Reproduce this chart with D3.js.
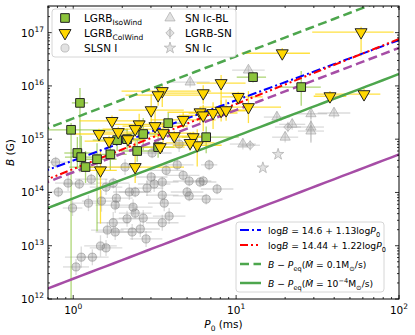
<!DOCTYPE html>
<html lang="en">
<head>
<meta charset="utf-8">
<title>B - P0</title>
<style>
  body { margin: 0; background: #fff; }
  svg { font-family: "DejaVu Sans", sans-serif; }
</style>
</head>
<body>
<div id="chart"></div>
<script src="https://cdn.jsdelivr.net/npm/d3@7"></script>
<script>
// rows: [P0 (ms), B (G), errP lo, errP hi, errB lo, errB hi]  errors in dex
var isoWind = [
  [0.97, 1.5e15, 0.14, 0.35, 3.2, 0.13],
  [1.10, 4.8e15, 0.05, 0.05, 1.3, 0.28],
  [1.06, 5.5e14, 0.08, 0.10, 0.3, 0.3],
  [1.12, 4.6e14, 0.10, 0.15, 0.2, 0.4],
  [1.19, 3.0e14, 0.10, 0.10, 0.3, 0.3],
  [1.40, 4.2e14, 0.12, 0.12, 1.35, 0.3],
  [1.69, 5.2e14, 0.10, 0.10, 0.3, 0.3],
  [1.86, 9.6e14, 0.15, 0.15, 0.2, 0.2],
  [2.14, 1.0e15, 0.10, 0.10, 0.2, 0.2],
  [2.47, 6.0e14, 0.10, 0.10, 0.2, 0.2],
  [2.69, 1.25e15, 0.10, 0.10, 0.3, 0.3],
  [3.32, 7.1e14, 0.10, 0.10, 0.2, 0.2],
  [3.83, 2.0e15, 0.12, 0.12, 0.2, 0.2],
  [6.55, 1.09e15, 0.15, 0.20, 0.3, 0.2],
  [12.7, 1.46e16, 0.10, 0.08, 0.1, 0.1],
  [25.1, 9.5e15, 0.13, 0.12, 0.35, 0.3]
];

var colWind = [
  [58.5, 1.02e17, 0.30, 0.20, 0.45, 0.10],
  [19.2, 4.1e16, 0.25, 0.17, 0.10, 0.10],
  [3.52, 8.0e15, 0.25, 0.30, 0.30, 0.10],
  [3.32, 6.7e15, 0.20, 0.30, 0.20, 0.10],
  [6.28, 7.3e15, 0.30, 0.25, 0.20, 0.15],
  [8.09, 1.13e16, 0.15, 0.15, 0.60, 0.15],
  [10.3, 6.2e15, 0.10, 0.15, 0.10, 0.10],
  [37.7, 6.4e15, 0.10, 0.10, 0.10, 0.10],
  [61.0, 7.0e15, 0.30, 0.10, 0.10, 0.10],
  [3.01, 3.5e15, 0.20, 0.20, 0.30, 0.30],
  [11.9, 4.0e15, 0.30, 0.20, 0.30, 0.30],
  [1.73, 2.2e15, 0.20, 0.20, 0.10, 0.10],
  [1.44, 1.25e15, 0.15, 0.20, 0.10, 0.10],
  [1.89, 1.36e15, 0.10, 0.10, 0.10, 0.10],
  [1.66, 9.2e14, 0.15, 0.15, 0.10, 0.10],
  [2.17, 1.0e15, 0.10, 0.10, 0.10, 0.10],
  [2.54, 1.9e15, 0.15, 0.15, 0.20, 0.20],
  [3.18, 1.76e15, 0.20, 0.20, 0.20, 0.30],
  [3.56, 1.3e15, 0.20, 0.20, 0.20, 0.20],
  [4.17, 1.14e15, 0.15, 0.20, 0.10, 0.10],
  [4.73, 2.3e15, 0.20, 0.20, 0.15, 0.15],
  [5.45, 1.09e15, 0.15, 0.10, 0.10, 0.10],
  [5.77, 7.7e14, 0.15, 0.15, 0.40, 0.30],
  [5.22, 8.5e14, 0.15, 0.15, 0.15, 0.20],
  [3.42, 7.1e14, 0.20, 0.15, 0.10, 0.10],
  [2.40, 3.0e14, 0.30, 0.30, 0.30, 0.50],
  [1.47, 2.6e14, 0.10, 0.10, 1.00, 0.40],
  [6.01, 3.2e15, 0.20, 0.15, 0.20, 0.10],
  [6.28, 2.8e15, 0.15, 0.15, 0.30, 0.20],
  [7.22, 3.1e15, 0.15, 0.15, 0.30, 0.20],
  [8.09, 3.4e15, 0.15, 0.15, 0.20, 0.20],
  [8.68, 3.5e15, 0.20, 0.15, 0.20, 0.20],
  [2.40, 1.55e15, 0.20, 0.20, 0.15, 0.15]
];

// rows: [P0 (ms), B (G), errP, errB]  symmetric, dex
var slsn = [
  [0.78, 3.7e14, 0.10, 0.10], [0.81, 1.02e14, 0.08, 0.10], [0.93, 1.5e14, 0.08, 0.15],
  [1.09, 1.44e14, 0.10, 0.10], [0.99, 5.1e13, 0.06, 0.15], [1.24, 6.3e13, 0.10, 0.15],
  [1.29, 1.78e14, 0.10, 0.10], [1.49, 6.9e13, 0.12, 0.20], [1.59, 1.26e14, 0.10, 0.15],
  [1.76, 1.5e14, 0.10, 0.10], [1.84, 7.8e13, 0.10, 0.20], [1.81, 5.8e13, 0.12, 0.15],
  [1.76, 2.7e13, 0.10, 0.20], [1.62, 1.97e13, 0.10, 0.15], [1.81, 1.81e13, 0.12, 0.15],
  [1.47, 9.9e12, 0.10, 0.20], [1.59, 9.1e12, 0.10, 0.15], [1.12, 6.1e12, 0.10, 0.20],
  [1.31, 6.1e12, 0.10, 0.15], [1.04, 4.0e12, 0.08, 0.15], [2.08, 3.0e14, 0.10, 0.15],
  [2.21, 1.02e14, 0.10, 0.15], [2.40, 1.02e14, 0.10, 0.10], [2.33, 5.3e13, 0.12, 0.15],
  [2.14, 3.2e13, 0.10, 0.15], [2.40, 4.1e13, 0.10, 0.10], [2.69, 3.3e13, 0.15, 0.15],
  [2.30, 1.81e13, 0.12, 0.15], [2.58, 2.06e13, 0.12, 0.15], [2.80, 1.34e13, 0.10, 0.15],
  [2.84, 1.21e14, 0.10, 0.15], [3.01, 1.95e14, 0.10, 0.10], [3.14, 1.44e14, 0.10, 0.15],
  [3.52, 1.57e14, 0.10, 0.10], [3.52, 8.9e13, 0.10, 0.15], [3.62, 6.3e13, 0.10, 0.15],
  [3.52, 2.7e13, 0.10, 0.15], [3.88, 3.6e13, 0.10, 0.15], [3.72, 2.6e14, 0.10, 0.10],
  [4.35, 3.3e14, 0.10, 0.10], [4.73, 2.1e14, 0.10, 0.10], [5.15, 1.64e14, 0.10, 0.10],
  [5.00, 1.02e14, 0.10, 0.10], [5.15, 8.6e13, 0.10, 0.10], [6.01, 1.57e14, 0.10, 0.10],
  [6.55, 7.5e13, 0.10, 0.10], [6.83, 3.3e14, 0.05, 0.10], [4.47, 8.1e14, 0.10, 0.15],
  [3.05, 5.5e14, 0.12, 0.10], [7.64, 1.16e14, 0.10, 0.10], [6.28, 1.64e14, 0.05, 0.10]
];

var snIcBL = [
  [5.22, 1.18e16, 0.12, 0.10], [11.9, 1.98e16, 0.10, 0.08], [17.8, 2.6e15, 0.08, 0.10],
  [22.1, 1.9e15, 0.08, 0.10], [28.8, 3.0e15, 0.10, 0.10], [39.9, 3.1e15, 0.10, 0.10],
  [20.0, 1.09e15, 0.08, 0.10], [28.8, 1.69e15, 0.08, 0.30], [28.8, 1.42e15, 0.08, 0.20],
  [11.0, 8.1e14, 0.08, 0.10]
];
var lgrbSN = [[20.8, 1.69e15, 0.08, 0.10], [12.2, 7.7e14, 0.06, 0.10]];
var snIc = [[18.1, 5.2e14, 0, 0], [14.6, 2.9e14, 0, 0]];

// fits: logB = a + b logP0
var fitBlue = [14.6, 1.13];
var fitRed = [14.44, 1.22];
// spin equilibrium lines, slope 7/6
var eqGreenDash = [15.39, 7 / 6];
var eqGreenSolid = [13.89, 7 / 6];
var eqPurpleDash = [14.38, 7 / 6];
var eqPurpleSolid = [12.38, 7 / 6];

var width = 415, height = 335;
var margin = {top: 6, right: 16, bottom: 36, left: 48};

var svg = d3.select("#chart").append("svg")
    .attr("width", width)
    .attr("height", height);

var x = d3.scaleLog().domain([0.7, 100]).range([margin.left, width - margin.right]);
var y = d3.scaleLog().domain([1e12, Math.pow(10, 17.5)]).range([height - margin.bottom, margin.top]);

svg.append("clipPath").attr("id", "clip")
  .append("rect")
    .attr("x", margin.left).attr("y", margin.top)
    .attr("width", x.range()[1] - margin.left)
    .attr("height", y.range()[0] - margin.top);

var plot = svg.append("g").attr("clip-path", "url(#clip)");

function errbars(g, data, color, op, asym) {
  data.forEach(function(d) {
    var lp = Math.log10(d[0]), lb = Math.log10(d[1]);
    var pl = d[2], ph = asym ? d[3] : d[2];
    var bl = asym ? d[4] : d[3], bh = asym ? d[5] : d[3];
    if (pl + ph > 0) {
      g.append("line")
        .attr("x1", x(Math.pow(10, lp - pl))).attr("x2", x(Math.pow(10, lp + ph)))
        .attr("y1", y(d[1])).attr("y2", y(d[1]))
        .attr("stroke", color).attr("stroke-opacity", op).attr("stroke-width", 1.3);
    }
    if (bl + bh > 0) {
      g.append("line")
        .attr("x1", x(d[0])).attr("x2", x(d[0]))
        .attr("y1", y(Math.pow(10, lb - bl))).attr("y2", y(Math.pow(10, lb + bh)))
        .attr("stroke", color).attr("stroke-opacity", op).attr("stroke-width", 1.3);
    }
  });
}

var gErr = plot.append("g");
errbars(gErr, slsn, "#999", 0.35, false);
errbars(gErr, snIcBL, "#999", 0.35, false);
errbars(gErr, lgrbSN, "#999", 0.35, false);
errbars(gErr, isoWind, "#8cc43c", 0.7, true);
errbars(gErr, colWind, "#ffd700", 0.75, true);

var sym = {
  circle: d3.symbol().type(d3.symbolCircle).size(52),
  triUp: d3.symbol().type(d3.symbolTriangle).size(45),
  diamond: d3.symbol().type(d3.symbolDiamond2).size(45),
  star: d3.symbol().type(d3.symbolStar).size(40),
  square: d3.symbol().type(d3.symbolSquare).size(75),
  triDown: d3.symbol().type(d3.symbolTriangle).size(62)
};

function pts(data, path, fill, stroke, fop, sop, rot, sw) {
  plot.append("g").selectAll("path")
    .data(data)
    .enter().append("path")
      .attr("d", path)
      .attr("transform", function(d) {
        return "translate(" + x(d[0]) + "," + y(d[1]) + ")" + (rot ? " rotate(180)" : "");
      })
      .attr("fill", fill).attr("fill-opacity", fop)
      .attr("stroke", stroke).attr("stroke-opacity", sop)
      .attr("stroke-width", sw || 1);
}

pts(slsn, sym.circle, "#808080", "#808080", 0.3, 0.5);
pts(snIcBL, sym.triUp, "#a0a0a0", "#a0a0a0", 0.3, 0.6);
pts(lgrbSN, sym.diamond, "#a0a0a0", "#a0a0a0", 0.3, 0.6);
pts(snIc, sym.star, "#a0a0a0", "#a0a0a0", 0.3, 0.6);

// lines
var logP = d3.range(-0.2, 2.05, 0.05);
function drawLine(par, color, dash, lw) {
  plot.append("path")
    .datum(logP)
    .attr("fill", "none")
    .attr("stroke", color)
    .attr("stroke-width", lw)
    .attr("stroke-dasharray", dash)
    .attr("d", d3.line()
      .x(function(l) { return x(Math.pow(10, l)); })
      .y(function(l) { return y(Math.pow(10, par[0] + par[1] * l)); }));
}
drawLine(eqGreenDash, "#4da64d", "9,4.5", 2.5);
drawLine(eqGreenSolid, "#4da64d", null, 2.5);
drawLine(eqPurpleDash, "#a64da6", "9,4.5", 2.5);
drawLine(eqPurpleSolid, "#a64da6", null, 2.5);
drawLine(fitBlue, "#0000ff", "9,3,2,3", 2);
drawLine(fitRed, "#ff0000", "8,3,2,3,2,3", 2);

pts(isoWind, sym.square, "#8cc43c", "#222", 1, 1, false, 1);
pts(colWind, sym.triDown, "#ffd700", "#222", 1, 1, true, 1);

// axes frame & ticks (inward, all sides)
var x0 = margin.left, x1 = width - margin.right, y0 = y.range()[0], y1 = margin.top;
var ax = svg.append("g").attr("stroke", "#000");
var xTicks = [], yTicks = [];
[0.1, 1, 10].forEach(function(dec) {
  for (var k = 1; k < 10; k++) {
    var v = dec * k;
    if (v >= 0.7 && v <= 100) xTicks.push([v, k === 1]);
  }
});
xTicks.push([100, true]);
for (var e = 12; e <= 17; e++) {
  for (var k = 1; k < 10; k++) {
    var v = k * Math.pow(10, e);
    if (v <= Math.pow(10, 17.5)) yTicks.push([v, k === 1]);
  }
}
xTicks.forEach(function(t) {
  var len = t[1] ? 4 : 2, px = x(t[0]);
  ax.append("line").attr("x1", px).attr("x2", px).attr("y1", y0).attr("y2", y0 - len).attr("stroke-width", 0.8);
  ax.append("line").attr("x1", px).attr("x2", px).attr("y1", y1).attr("y2", y1 + len).attr("stroke-width", 0.8);
});
yTicks.forEach(function(t) {
  var len = t[1] ? 4 : 2, py = y(t[0]);
  ax.append("line").attr("x1", x0).attr("x2", x0 + len).attr("y1", py).attr("y2", py).attr("stroke-width", 0.8);
  ax.append("line").attr("x1", x1).attr("x2", x1 - len).attr("y1", py).attr("y2", py).attr("stroke-width", 0.8);
});
svg.append("rect")
  .attr("x", x0).attr("y", y1).attr("width", x1 - x0).attr("height", y0 - y1)
  .attr("fill", "none").attr("stroke", "#000").attr("stroke-width", 1);

// tick labels
var xLabels = [[1, "0"], [10, "1"], [100, "2"]];
xLabels.forEach(function(t) {
  var tx = svg.append("text")
    .attr("x", x(t[0])).attr("y", y0 + 15)
    .attr("text-anchor", "middle").attr("font-size", 10.5);
  tx.append("tspan").text("10");
  tx.append("tspan").attr("dy", -5).attr("font-size", 7.5).text(t[1]);
});
var yLabels = [[1e12, "12"], [1e13, "13"], [1e14, "14"], [1e15, "15"], [1e16, "16"], [1e17, "17"]];
yLabels.forEach(function(t) {
  var ty = svg.append("text")
    .attr("x", x0 - 4).attr("y", y(t[0]) + 4)
    .attr("text-anchor", "end").attr("font-size", 10.5);
  ty.append("tspan").text("10");
  ty.append("tspan").attr("dy", -5).attr("font-size", 7.5).text(t[1]);
});

// axis labels
var xl = svg.append("text")
  .attr("x", (x0 + x1) / 2).attr("y", 328)
  .attr("text-anchor", "middle").attr("font-size", 10.5);
xl.append("tspan").attr("font-style", "italic").text("P");
xl.append("tspan").attr("dy", 2.5).attr("font-size", 7.5).text("0");
xl.append("tspan").attr("dy", -2.5).text(" (ms)");

var yl = svg.append("text")
  .attr("transform", "translate(14," + (y0 + y1) / 2 + ") rotate(-90)")
  .attr("text-anchor", "middle").attr("font-size", 10.5);
yl.append("tspan").attr("font-style", "italic").text("B");
yl.append("tspan").text(" (G)");

// legend 1 (markers)
var leg1 = svg.append("g");
leg1.append("rect")
  .attr("x", 52).attr("y", 9).attr("width", 184).attr("height", 48).attr("rx", 3)
  .attr("fill", "#fff").attr("fill-opacity", 0.85)
  .attr("stroke", "#ccc").attr("stroke-width", 0.8);

var leg1Items = [
  {col: 0, row: 0, name: "LGRB", sub: "IsoWind", kind: "square"},
  {col: 0, row: 1, name: "LGRB", sub: "ColWind", kind: "triDown"},
  {col: 0, row: 2, name: "SLSN I", sub: null, kind: "circle"},
  {col: 1, row: 0, name: "SN Ic-BL", sub: null, kind: "triUp"},
  {col: 1, row: 1, name: "LGRB-SN", sub: null, kind: "diamond"},
  {col: 1, row: 2, name: "SN Ic", sub: null, kind: "star"}
];
leg1Items.forEach(function(it) {
  var mx = it.col ? 170 : 65, ty = 18 + it.row * 15;
  var g = leg1.append("g").attr("transform", "translate(" + mx + "," + ty + ")");
  if (it.kind === "square") {
    g.append("path").attr("d", sym.square).attr("fill", "#8cc43c").attr("stroke", "#222");
  } else if (it.kind === "triDown") {
    g.append("line").attr("x1", -5).attr("x2", 5).attr("stroke", "#ffd700").attr("stroke-width", 1.3);
    g.append("path").attr("d", sym.triDown).attr("transform", "rotate(180)").attr("fill", "#ffd700").attr("stroke", "#222");
  } else {
    if (it.kind === "diamond") {
      g.append("line").attr("y1", -6).attr("y2", 6).attr("stroke", "#999").attr("stroke-opacity", 0.5).attr("stroke-width", 1.3);
    }
    g.append("path").attr("d", sym[it.kind])
      .attr("fill", "#a0a0a0").attr("fill-opacity", 0.3)
      .attr("stroke", "#a0a0a0").attr("stroke-opacity", 0.6);
  }
  var t = leg1.append("text").attr("x", mx + (it.col ? 15 : 19)).attr("y", ty + 4).attr("font-size", 10.5);
  t.append("tspan").text(it.name);
  if (it.sub) t.append("tspan").attr("dy", 2.5).attr("font-size", 7.5).text(it.sub);
});

// legend 2 (lines)
var leg2 = svg.append("g");
leg2.append("rect")
  .attr("x", 236).attr("y", 222).attr("width", 148).attr("height", 70).attr("rx", 3)
  .attr("fill", "#fff").attr("fill-opacity", 0.85)
  .attr("stroke", "#ccc").attr("stroke-width", 0.8);

var leg2Items = [
  {color: "#0000ff", dash: "9,3,2,3", lw: 2, y: 230},
  {color: "#ff0000", dash: "8,3,2,3,2,3", lw: 2, y: 245},
  {color: "#4da64d", dash: "9,4.5", lw: 2.5, y: 264},
  {color: "#4da64d", dash: null, lw: 2.5, y: 283}
];
leg2Items.forEach(function(it) {
  leg2.append("line")
    .attr("x1", 240).attr("x2", 261).attr("y1", it.y).attr("y2", it.y)
    .attr("stroke", it.color).attr("stroke-width", it.lw).attr("stroke-dasharray", it.dash);
});

function fitText(yy, a, b) {
  var t = leg2.append("text").attr("x", 268).attr("y", yy + 4).attr("font-size", 9.2);
  t.append("tspan").text("log");
  t.append("tspan").attr("font-style", "italic").text("B");
  t.append("tspan").text(" = " + a + " + " + b + "log");
  t.append("tspan").attr("font-style", "italic").text("P");
  t.append("tspan").attr("dy", 2.5).attr("font-size", 6.6).text("0");
}
fitText(230, fitBlue[0], fitBlue[1]);
fitText(245, fitRed[0], fitRed[1]);

function eqText(yy, mdot, exp) {
  var t = leg2.append("text").attr("x", 268).attr("y", yy + 4).attr("font-size", 9.2);
  t.append("tspan").attr("font-style", "italic").text("B");
  t.append("tspan").text(" \u2212 ");
  t.append("tspan").attr("font-style", "italic").text("P");
  t.append("tspan").attr("dy", 2.5).attr("font-size", 6.6).text("eq");
  t.append("tspan").attr("dy", -2.5).text("(");
  t.append("tspan").attr("font-style", "italic").text("\u1E40");
  t.append("tspan").text(" = " + mdot);
  if (exp) {
    t.append("tspan").attr("dy", -4.5).attr("font-size", 6.6).text(exp);
    t.append("tspan").attr("dy", 4.5).text("M");
  } else {
    t.append("tspan").text("M");
  }
  t.append("tspan").attr("dy", 2.5).attr("font-size", 6.6).text("\u2299");
  t.append("tspan").attr("dy", -2.5).text("/s)");
}
eqText(264, "0.1", null);
eqText(283, "10", "\u22124");
</script>
</body>
</html>
